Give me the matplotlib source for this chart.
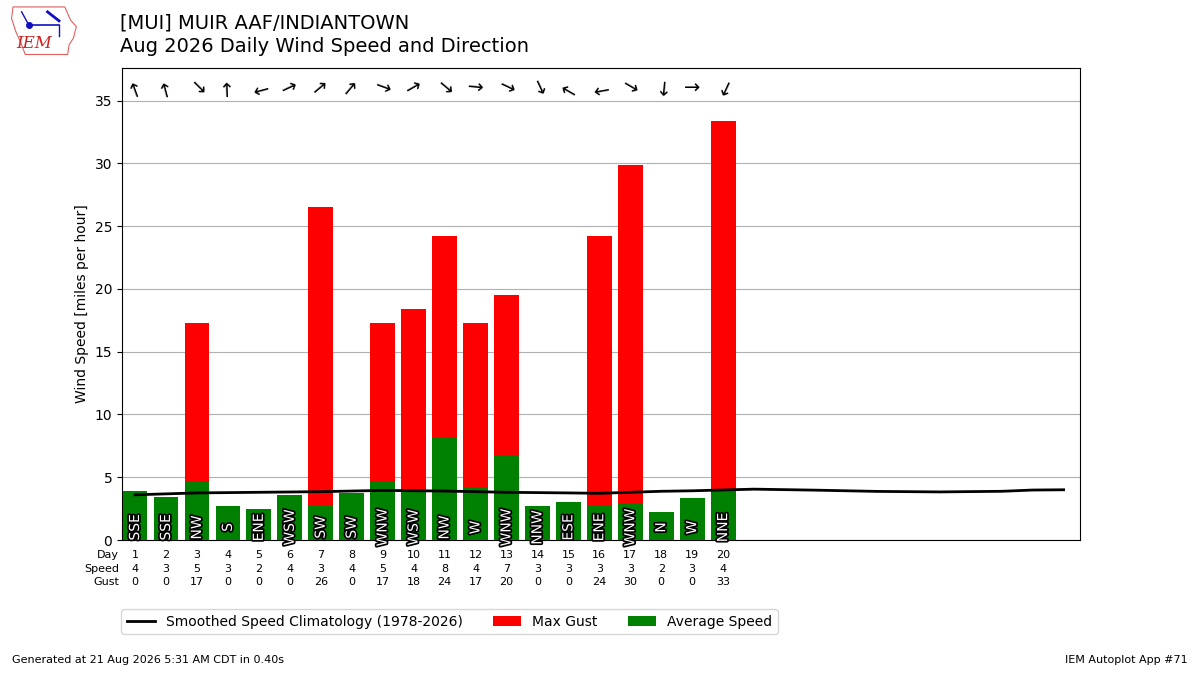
import matplotlib
matplotlib.use("Agg")
import matplotlib.pyplot as plt
import matplotlib.patheffects as pe
import matplotlib.transforms as mtransforms
from matplotlib.patches import Polygon

days = list(range(1, 21))
avg_speed = [3.9, 3.43, 4.7, 2.7, 2.47, 3.6, 2.7, 3.75, 4.7, 3.8, 8.2, 4.2, 6.8, 2.7, 3.03, 2.8, 2.87, 2.23, 3.35, 3.8]
max_gust = [0, 0, 17.3, 0, 0, 0, 26.5, 0, 17.3, 18.4, 24.2, 17.3, 19.5, 0, 0, 24.2, 29.9, 0, 0, 33.4]
speed_labels = [4, 3, 5, 3, 2, 4, 3, 4, 5, 4, 8, 4, 7, 3, 3, 3, 3, 2, 3, 4]
gust_labels = [0, 0, 17, 0, 0, 0, 26, 0, 17, 18, 24, 17, 20, 0, 0, 24, 30, 0, 0, 33]
dir_text = ["SSE", "SSE", "NW", "S", "ENE", "WSW", "SW", "SW", "WNW", "WSW",
            "NW", "W", "WNW", "NNW", "ESE", "ENE", "WNW", "N", "W", "NNE"]
dir_deg = [160, 165, 315, 178, 75, 245, 230, 220, 290, 240,
           310, 275, 295, 335, 120, 80, 300, 5, 270, 25]
clim_days = [1, 3, 5, 7, 9, 11, 13, 15, 16, 17, 18, 19, 21, 23, 25, 27, 29, 30, 31]
clim_speed = [3.6, 3.75, 3.8, 3.85, 3.95, 3.9, 3.8, 3.75, 3.72, 3.8, 3.88, 3.92, 4.05, 3.97, 3.87, 3.83, 3.88, 3.98, 4.0]

fig = plt.figure(figsize=(12, 6.75), dpi=100)
ax = fig.add_axes([0.1017, 0.2, 0.7983, 0.6993])

ax.plot(clim_days, clim_speed, color="black", lw=2, zorder=4,
        label="Smoothed Speed Climatology (1978-2026)")
ax.bar(days, max_gust, width=0.8, color="#ff0000", label="Max Gust", zorder=2)
ax.bar(days, avg_speed, width=0.8, color="#008000", label="Average Speed", zorder=3)

for d, t in zip(days, dir_text):
    ax.text(d, 1.0, t, rotation=90, ha="center", va="center", color="white",
            fontsize=10, zorder=5,
            path_effects=[pe.withStroke(linewidth=2.5, foreground="black")])

for d, deg in zip(days, dir_deg):
    toward = (deg + 180) % 360
    ang = 90 - toward
    ax.text(d, 36.0, "\u2192", rotation=ang, rotation_mode="anchor",
            ha="center", va="center", fontsize=14, zorder=5)

ax.set_xlim(0.58, 31.53)
ax.set_ylim(0, 37.6)
ax.set_yticks(range(0, 36, 5))
ax.set_xticks([])
ax.grid(axis="y", color="#b0b0b0", zorder=0)
ax.set_axisbelow(True)
ax.set_ylabel("Wind Speed [miles per hour]", fontsize=10)

trans = mtransforms.blended_transform_factory(ax.transData, ax.transAxes)
rows_y = [-0.032, -0.061, -0.089]
for d, s, g in zip(days, speed_labels, gust_labels):
    ax.text(d, rows_y[0], str(d), transform=trans, ha="center", va="center", fontsize=8)
    ax.text(d, rows_y[1], str(s), transform=trans, ha="center", va="center", fontsize=8)
    ax.text(d, rows_y[2], str(g), transform=trans, ha="center", va="center", fontsize=8)
for lab, yy in zip(["Day", "Speed", "Gust"], rows_y):
    ax.text(-0.003, yy, lab, transform=ax.transAxes, ha="right", va="center", fontsize=8)

handles, labels = ax.get_legend_handles_labels()
fig.legend(handles, labels, loc="center", bbox_to_anchor=(0.3745, 0.079), ncol=3,
           fontsize=10, columnspacing=2.2)

fig.text(0.1, 0.98, "[MUI] MUIR AAF/INDIANTOWN\nAug 2026 Daily Wind Speed and Direction",
         ha="left", va="top", fontsize=14, linespacing=1.3)
fig.text(0.01, 0.015, "Generated at 21 Aug 2026 5:31 AM CDT in 0.40s", fontsize=8,
         ha="left", va="bottom")
fig.text(0.99, 0.015, "IEM Autoplot App #71", fontsize=8, ha="right", va="bottom")

# simple logo
lax = fig.add_axes([0.006, 0.912, 0.06, 0.085])
lax.set_xlim(0, 100)
lax.set_ylim(0, 70)
lax.axis("off")
outline = [(8, 64), (80, 64), (84, 56), (88, 48), (96, 40), (92, 26), (86, 18), (84, 6),
           (25, 6), (20, 18), (12, 34), (6, 50)]
lax.add_patch(Polygon(outline, closed=True, fill=False, edgecolor="#e06060", lw=0.8))
lax.text(38, 19, "IEM", color="#d02020", fontsize=12, family="DejaVu Serif",
         style="italic", ha="center", va="center")
lax.plot([30, 72], [42, 42], color="#1010c0", lw=1.2)
lax.plot([30], [42], "o", color="#1010c0", ms=4)
lax.plot([20, 30], [58, 42], color="#1010c0", lw=1)
lax.plot([56, 72], [58, 47], color="#1010c0", lw=2)
lax.plot([72, 72], [42, 28], color="#1010c0", lw=1)

fig.savefig("out.png", dpi=100)
